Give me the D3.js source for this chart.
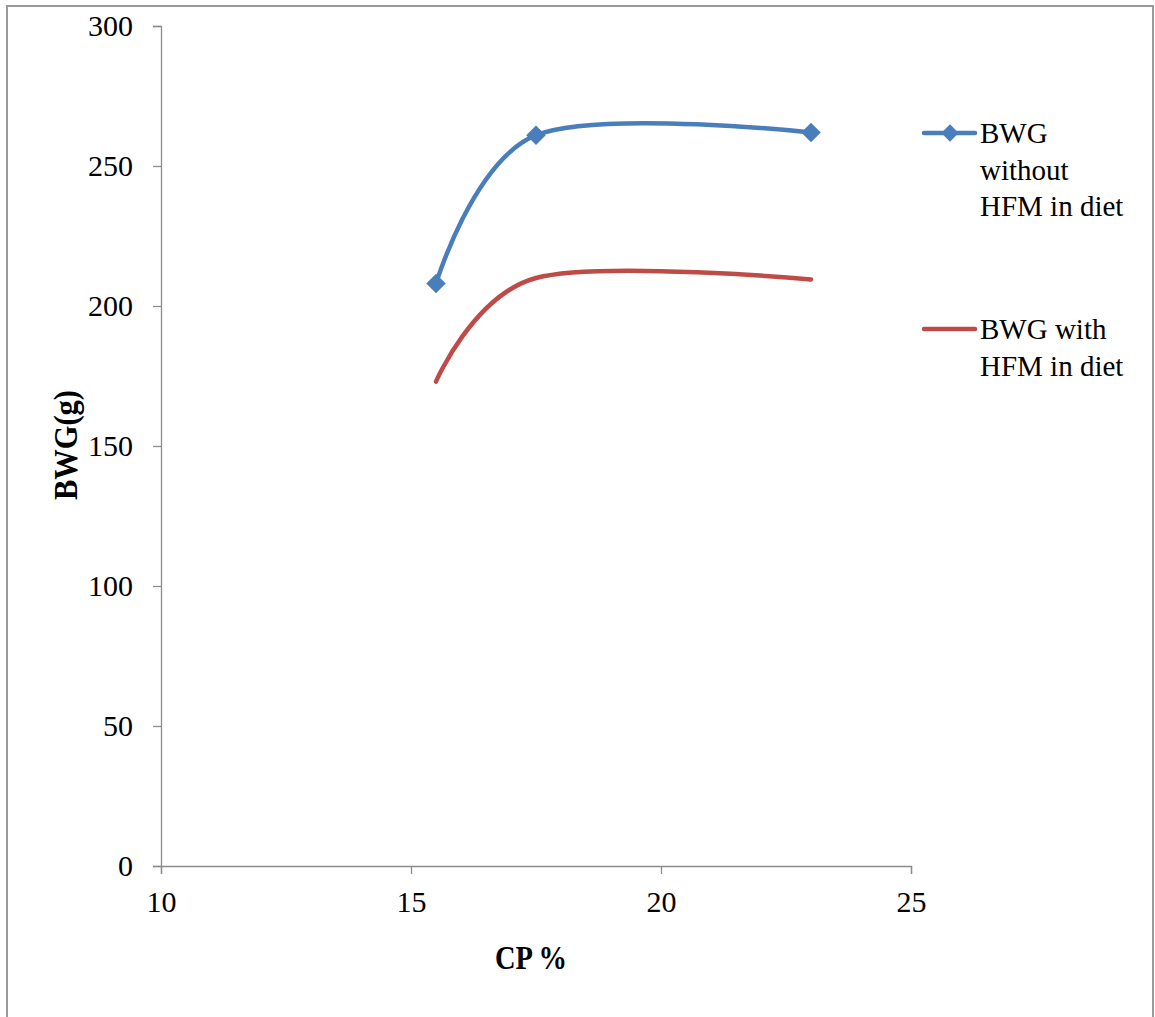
<!DOCTYPE html>
<html>
<head>
<meta charset="utf-8">
<script src="https://cdn.jsdelivr.net/npm/d3@7"></script>
<style>
  html, body { margin: 0; padding: 0; background: #fff; }
  svg { display: block; }
  text { font-family: "Liberation Serif", "Times New Roman", serif; fill: #000; }
</style>
</head>
<body>
<script>
// Crude protein level of the diet (%)
const cpLevels = [15.5, 17.5, 23];
// Body weight gain (g)
const bwgWithoutHFM = [208, 261, 262];
const bwgWithHFM = [173, 210, 209.5];

const seriesNames = [["BWG", "without", "HFM in diet"], ["BWG with", "HFM in diet"]];
const seriesColors = ["#4A7EBB", "#BE4B48"];

const xTicks = [10, 15, 20, 25];
const yTicks = [0, 50, 100, 150, 200, 250, 300];

const W = 1155, H = 1017;
const svg = d3.select("body").append("svg").attr("width", W).attr("height", H);

// chart area frame
svg.append("rect")
  .attr("x", 7).attr("y", 6).attr("width", 1146).attr("height", 1030)
  .attr("fill", "none").attr("stroke", "#9a9a9a").attr("stroke-width", 2);

const x = d3.scaleLinear().domain([10, 25]).range([161, 911]);
const y = d3.scaleLinear().domain([0, 300]).range([866, 26]);

// y axis
const yAxis = svg.append("g").attr("transform", `translate(${x(10)},0)`)
  .call(d3.axisLeft(y).tickValues(yTicks).tickSize(8).tickPadding(20));
// x axis
const xAxis = svg.append("g").attr("transform", `translate(0,${y(0)})`)
  .call(d3.axisBottom(x).tickValues(xTicks).tickSize(8).tickPadding(17));

[yAxis, xAxis].forEach(g => {
  g.select(".domain").attr("stroke", "#8c8c8c").attr("stroke-width", 1.3);
  g.selectAll(".tick line").attr("stroke", "#8c8c8c").attr("stroke-width", 1.3);
  g.selectAll(".tick text")
    .attr("font-family", "Liberation Serif, Times New Roman, serif")
    .attr("font-size", 30).attr("fill", "#000");
});

// axis titles (narrow bold lettering)
svg.append("text")
  .attr("x", 531).attr("y", 969)
  .attr("text-anchor", "middle")
  .attr("font-size", 34).attr("font-weight", "bold")
  .attr("textLength", 72).attr("lengthAdjust", "spacingAndGlyphs")
  .text("CP %");

svg.append("text")
  .attr("transform", "translate(77,445) rotate(-90)")
  .attr("text-anchor", "middle")
  .attr("font-size", 33).attr("font-weight", "bold")
  .attr("textLength", 110).attr("lengthAdjust", "spacingAndGlyphs")
  .text("BWG(g)");

// smoothed series lines
const line = d3.line()
  .x(d => x(d[0])).y(d => y(d[1]))
  .curve(d3.curveCardinal.tension(0));

const series = [
  cpLevels.map((c, i) => [c, bwgWithoutHFM[i]]),
  cpLevels.map((c, i) => [c, bwgWithHFM[i]])
];

series.forEach((pts, i) => {
  svg.append("path")
    .attr("d", line(pts))
    .attr("fill", "none")
    .attr("stroke", seriesColors[i])
    .attr("stroke-width", 4.5)
    .attr("stroke-linecap", "round");
});

// diamond markers on the first series
const diamond = d3.symbol().type(d3.symbolSquare).size(190);
svg.append("g").selectAll("path")
  .data(series[0])
  .join("path")
  .attr("d", diamond)
  .attr("transform", d => `translate(${x(d[0])},${y(d[1])}) rotate(45)`)
  .attr("fill", seriesColors[0]);

// legend
const legendY = [133, 329];
seriesNames.forEach((lines, i) => {
  const g = svg.append("g");
  g.append("line")
    .attr("x1", 924).attr("x2", 975)
    .attr("y1", legendY[i]).attr("y2", legendY[i])
    .attr("stroke", seriesColors[i]).attr("stroke-width", 4.5)
    .attr("stroke-linecap", "round");
  if (i === 0) {
    g.append("path")
      .attr("d", d3.symbol().type(d3.symbolSquare).size(150))
      .attr("transform", `translate(950,${legendY[i]}) rotate(45)`)
      .attr("fill", seriesColors[i]);
  }
  const t = g.append("text").attr("font-size", 29);
  lines.forEach((s, j) => {
    t.append("tspan")
      .attr("x", 980)
      .attr("y", legendY[i] + 10 + j * 36.5)
      .text(s);
  });
});
</script>
</body>
</html>
